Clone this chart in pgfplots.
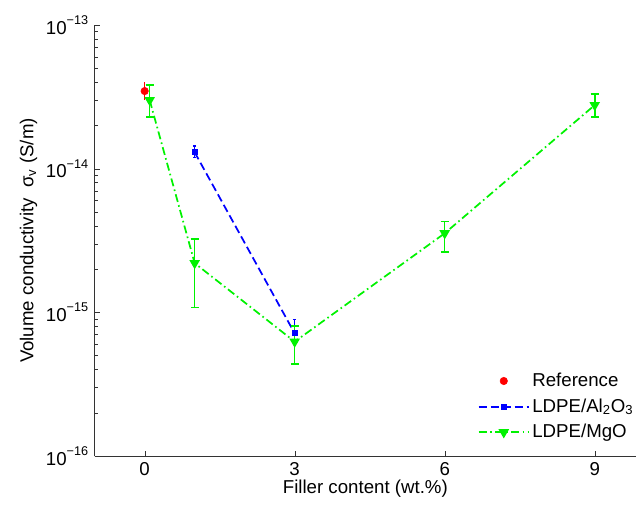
\documentclass[border=0pt]{standalone}
\usepackage{fontspec}
\setmainfont{Liberation Sans}
\usepackage{pgfplots}
\pgfplotsset{compat=1.18}
\definecolor{mgreen}{rgb}{0,0.95,0}
\newcommand{\sz}{\fontsize{14pt}{16pt}\selectfont}
\newcommand{\mysup}[1]{\raisebox{1.0ex}{\fontsize{9.5pt}{10pt}\selectfont #1}}
\begin{document}
\sz
\begin{tikzpicture}
\begin{axis}[
  scale only axis,
  width=406pt, height=323.25pt,
  xmin=-1, xmax=9.826,
  ymode=log, ymin=1e-16, ymax=1e-13,
  axis lines=left,
  axis line style={-, black!80},
  tick align=inside,
  xtick={0,3,6,9},
  ytick={1e-16,1e-15,1e-14,1e-13},
  minor ytick={2e-16,3e-16,4e-16,5e-16,6e-16,7e-16,8e-16,9e-16,
               2e-15,3e-15,4e-15,5e-15,6e-15,7e-15,8e-15,9e-15,
               2e-14,3e-14,4e-14,5e-14,6e-14,7e-14,8e-14,9e-14},
  yticklabels={10\mysup{−16},10\mysup{−15},10\mysup{−14},10\mysup{−13}},
  /pgf/number format/assume math mode=true,
  tick style={black!80},
  major tick length=4pt,
  minor tick length=2.5pt,
  tick label style={font=\sz},
  xlabel={Filler content (wt.\%)},
  ylabel={Volume conductivity\ \ σ\textsubscript{v} (S/m)},
  label style={font=\sz},
  xlabel style={yshift=6pt},
  ylabel style={yshift=-3pt},
  legend style={draw=none, fill=none, at={(0.700,0.206)}, anchor=north west,
    font=\sz, row sep=3pt,
    legend cell align=left},
  legend image code/.code={
    \draw[mark repeat=2,mark phase=2] plot coordinates {(0cm,0cm) (0.66cm,0cm) (1.32cm,0cm)};},
  error bars/error bar style={line width=1.2pt, solid},
  error bars/error mark options={rotate=90, mark size=3pt, line width=1.2pt, solid},
]
\addplot[only marks, red, mark=*, mark size=2.8pt,
  error bars/.cd, y dir=both, y explicit, error mark=none]
  coordinates {(0,3.47e-14) += (0,0.53e-14) -= (0,0.47e-14)};
\addlegendentry{Reference}

\addplot[blue, line width=1.3pt, dash pattern=on 6pt off 3pt,
  mark=square*, mark size=1.6pt, mark options={solid},
  error bars/error mark options={rotate=90, mark size=1.3pt, line width=1.1pt, solid},
  error bars/.cd, y dir=both, y explicit]
  coordinates {
  (1,1.30e-14) += (0,0.14e-14) -= (0,0.10e-14)
  (3,7.14e-16) += (0,1.8e-16) -= (0,0.7e-16)
  };
\addlegendentry{LDPE/Al\textsubscript{2}O\textsubscript{3}}

\addplot[mgreen, line width=1.3pt, dash pattern=on 6pt off 2.5pt on 1.2pt off 2.5pt,
  mark=triangle*, mark size=3.3pt, mark options={solid, rotate=180},
  error bars/.cd, y dir=both, y explicit]
  coordinates {
  (0.1,3.0e-14) += (0,0.82e-14) -= (0,0.70e-14)
  (1,2.2e-15) += (0,1.03e-15) -= (0,1.12e-15)
  (3,6.25e-16) += (0,1.82e-16) -= (0,1.87e-16)
  (6,3.55e-15) += (0,0.73e-15) -= (0,0.91e-15)
  (9,2.77e-14) += (0,0.54e-14) -= (0,0.47e-14)
  };
\addlegendentry{LDPE/MgO}
\end{axis}
\pgfresetboundingbox
\path ([shift={(-71pt,-37.5pt)}]current axis.south west) rectangle ++(477pt,379.5pt);
\end{tikzpicture}
\end{document}
